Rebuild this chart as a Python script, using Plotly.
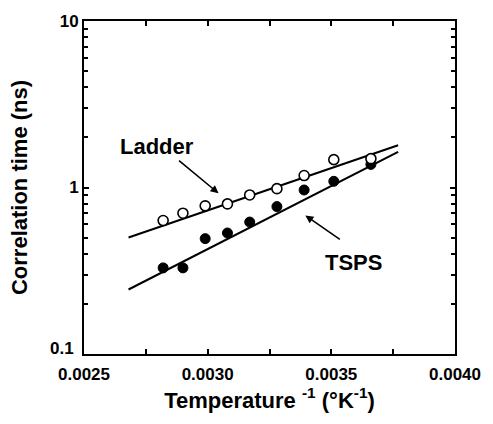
import plotly.graph_objects as go

# Inverse temperature (1/K) of the measurement points
inv_temp = [0.00282, 0.00290, 0.00299, 0.00308, 0.00317, 0.00328, 0.00339, 0.00351, 0.00366]

# Rotational correlation times (ns)
ladder_tau = [0.633, 0.701, 0.776, 0.797, 0.902, 0.984, 1.18, 1.47, 1.49]
tsps_tau = [0.329, 0.329, 0.493, 0.533, 0.620, 0.768, 0.966, 1.089, 1.376]

# Arrhenius fit lines (end points)
fit_x = [0.00268, 0.00377]
ladder_fit = [0.501, 1.794]
tsps_fit = [0.244, 1.636]

y_major = [1, 10]
y_major_text = ["1", "10"]
y_minor = [m * d for d in (0.1, 1) for m in range(2, 10)]
x_major = [0.0025, 0.0030, 0.0035, 0.0040]
x_labels = ["0.0025", "0.0030", "0.0035", "0.0040"]

FONT = "Liberation Sans, Arial, Helvetica, sans-serif"
tick_font = dict(family=FONT, size=17, color="black", weight="bold")

fig = go.Figure()

fig.add_trace(go.Scatter(x=fit_x, y=ladder_fit, mode="lines",
                         line=dict(color="black", width=2), showlegend=False))
fig.add_trace(go.Scatter(x=fit_x, y=tsps_fit, mode="lines",
                         line=dict(color="black", width=2), showlegend=False))
fig.add_trace(go.Scatter(x=inv_temp, y=tsps_tau, mode="markers",
                         marker=dict(symbol="circle", size=10, color="black",
                                     line=dict(color="black", width=1)),
                         showlegend=False))
fig.add_trace(go.Scatter(x=inv_temp, y=ladder_tau, mode="markers",
                         marker=dict(symbol="circle", size=10, color="white",
                                     line=dict(color="black", width=1.6)),
                         showlegend=False))

axis_common = dict(
    showline=True, linecolor="black", linewidth=2, mirror="ticks",
    ticks="inside", tickcolor="black", tickwidth=1.5, ticklen=5,
    showgrid=False, zeroline=False, tickfont=tick_font,
)

fig.update_xaxes(
    range=[0.0025, 0.0040], tickmode="array", tickvals=x_major, ticktext=x_labels,
    ticklabelstandoff=4,
    minor=dict(tickmode="array", tickvals=[0.00275, 0.00325, 0.00375],
               ticks="inside", ticklen=5, tickcolor="black", tickwidth=1.5),
    title=dict(text="Temperature <sup>-1</sup> (°K<sup>-1</sup>)", standoff=8,
               font=dict(family=FONT, size=22, color="black", weight="bold")),
    **axis_common,
)
fig.update_yaxes(
    type="log", range=[-1, 1], tickmode="array", tickvals=y_major,
    ticktext=y_major_text,
    minor=dict(tickmode="array", tickvals=y_minor,
               ticks="inside", ticklen=4, tickcolor="black", tickwidth=1.5),
    title=dict(text="Correlation time (ns)", standoff=26,
               font=dict(family=FONT, size=22, color="black", weight="bold")),
    **axis_common,
)

# Bottom decade label sits a little above the corner, clear of the x labels
fig.add_annotation(xref="paper", x=0, xanchor="right", xshift=-8,
                   yref="y", y=-1, yanchor="middle", yshift=6,
                   text="0.1", showarrow=False, font=tick_font)
# Extra inside tick at the 0.1 decade
fig.add_shape(type="line", xref="paper", yref="y", x0=0, x1=0.013, y0=-1, y1=-1,
              line=dict(color="black", width=1.5))

label_font = dict(family=FONT, size=22, color="black", weight="bold")
fig.add_annotation(x=0.002795, y=0.248, text="Ladder", showarrow=False, font=label_font)
fig.add_annotation(x=0.00359, y=-0.449, text="TSPS", showarrow=False, font=label_font)
fig.add_annotation(x=0.003044, y=-0.035, ax=-41, ay=-34, text="", showarrow=True,
                   arrowhead=2, arrowsize=1, arrowwidth=1.6, arrowcolor="black")
fig.add_annotation(x=0.003395, y=-0.168, ax=36, ay=25, text="", showarrow=True,
                   arrowhead=2, arrowsize=1, arrowwidth=1.6, arrowcolor="black")

fig.update_layout(
    width=493, height=424,
    margin=dict(l=84, r=26, t=19, b=70),
    paper_bgcolor="white", plot_bgcolor="white",
)

fig.write_html("out.html")
